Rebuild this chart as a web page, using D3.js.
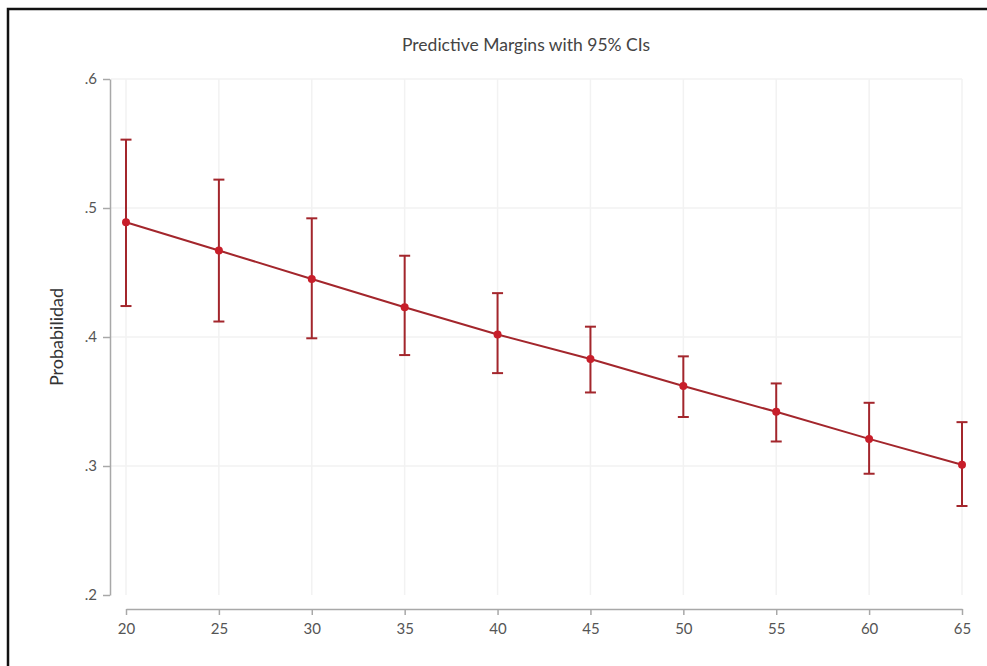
<!DOCTYPE html>
<html>
<head>
<meta charset="utf-8">
<script src="https://cdn.jsdelivr.net/npm/d3@7"></script>
<style>
  body { margin: 0; background: #fff; }
  svg { display: block; font-family: Lato, "Open Sans", sans-serif; }
  .axis path, .axis line { stroke: #a8a8a8; stroke-width: 1.5; }
  .axis text { fill: #555; font-size: 15px; font-family: Lato, "Open Sans", sans-serif; }
  .grid line { stroke: #f2f2f2; stroke-width: 1.5; }
</style>
</head>
<body>
<svg id="chart" width="987" height="666"></svg>
<script>
// values
var ages = [20, 25, 30, 35, 40, 45, 50, 55, 60, 65];
var margin = [0.489, 0.467, 0.445, 0.423, 0.402, 0.383, 0.362, 0.342, 0.321, 0.301];
var ciLow  = [0.424, 0.412, 0.399, 0.386, 0.372, 0.357, 0.338, 0.319, 0.294, 0.269];
var ciHigh = [0.553, 0.522, 0.492, 0.463, 0.434, 0.408, 0.385, 0.364, 0.349, 0.334];
var yTicks = [0.2, 0.3, 0.4, 0.5, 0.6];
var yTickLabels = [".2", ".3", ".4", ".5", ".6"];

var lineColor = "#a3262c",
    dotColor = "#c81e2a";

var svg = d3.select("#chart");

var x = d3.scaleLinear().domain([20, 65]).range([126, 962]);
var y = d3.scaleLinear().domain([0.2, 0.6]).range([595, 79]);

var data = ages.map(function(a, i) {
  return { age: a, m: margin[i], lo: ciLow[i], hi: ciHigh[i] };
});

// outer frame
svg.append("rect")
    .attr("x", 8).attr("y", 9)
    .attr("width", 1000).attr("height", 700)
    .attr("fill", "none")
    .attr("stroke", "#111")
    .attr("stroke-width", 2.5);

// grid
var grid = svg.append("g").attr("class", "grid");
grid.selectAll(".gy")
    .data(yTicks.slice(1))
  .enter().append("line")
    .attr("x1", 111).attr("x2", x(65))
    .attr("y1", function(d) { return y(d); })
    .attr("y2", function(d) { return y(d); });
grid.selectAll(".gx")
    .data(ages)
  .enter().append("line")
    .attr("x1", function(d) { return x(d); })
    .attr("x2", function(d) { return x(d); })
    .attr("y1", y(0.6)).attr("y2", y(0.2));

// axes
svg.append("g")
    .attr("class", "axis")
    .attr("transform", "translate(110,0)")
    .call(d3.axisLeft(y).tickValues(yTicks)
      .tickFormat(function(d, i) { return yTickLabels[i]; })
      .tickSizeInner(7).tickSizeOuter(0).tickPadding(6))
    .attr("font-family", null).attr("font-size", null);

svg.append("g")
    .attr("class", "axis")
    .attr("transform", "translate(0,609)")
    .call(d3.axisBottom(x).tickValues(ages)
      .tickSizeInner(6).tickSizeOuter(0).tickPadding(8))
    .attr("font-family", null).attr("font-size", null);

// error bars
var bars = svg.append("g").selectAll("g")
    .data(data)
  .enter().append("g")
    .attr("stroke", lineColor)
    .attr("stroke-width", 2);

bars.append("line")
    .attr("x1", function(d) { return x(d.age); })
    .attr("x2", function(d) { return x(d.age); })
    .attr("y1", function(d) { return y(d.lo); })
    .attr("y2", function(d) { return y(d.hi); });
bars.append("line")
    .attr("x1", function(d) { return x(d.age) - 5.5; })
    .attr("x2", function(d) { return x(d.age) + 5.5; })
    .attr("y1", function(d) { return y(d.hi); })
    .attr("y2", function(d) { return y(d.hi); });
bars.append("line")
    .attr("x1", function(d) { return x(d.age) - 5.5; })
    .attr("x2", function(d) { return x(d.age) + 5.5; })
    .attr("y1", function(d) { return y(d.lo); })
    .attr("y2", function(d) { return y(d.lo); });

// margins line
svg.append("path")
    .datum(data)
    .attr("fill", "none")
    .attr("stroke", lineColor)
    .attr("stroke-width", 2)
    .attr("d", d3.line()
      .x(function(d) { return x(d.age); })
      .y(function(d) { return y(d.m); }));

svg.append("g").selectAll("circle")
    .data(data)
  .enter().append("circle")
    .attr("cx", function(d) { return x(d.age); })
    .attr("cy", function(d) { return y(d.m); })
    .attr("r", 4)
    .attr("fill", dotColor);

// title and y label
svg.append("text")
    .attr("x", 526).attr("y", 51)
    .attr("text-anchor", "middle")
    .attr("fill", "#444")
    .style("font-size", "17.5px")
    .text("Predictive Margins with 95% CIs");

svg.append("text")
    .attr("transform", "translate(63,337) rotate(-90)")
    .attr("text-anchor", "middle")
    .attr("fill", "#333")
    .style("font-size", "18px")
    .text("Probabilidad");
</script>
</body>
</html>
